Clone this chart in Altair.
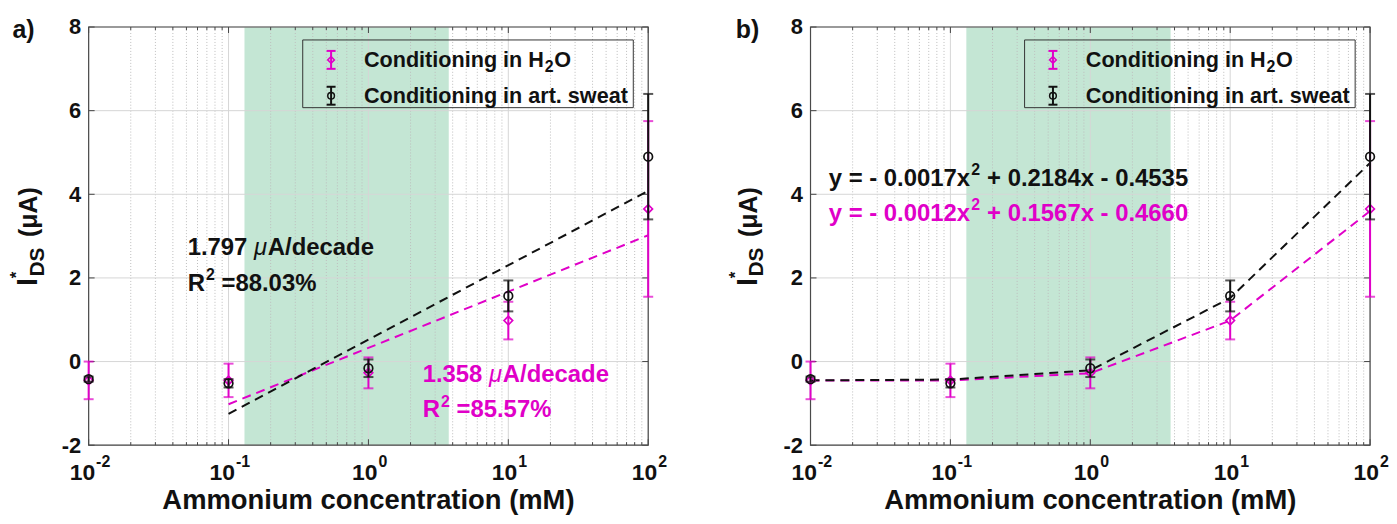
import altair as alt
import pandas as pd

# ---------------- data ----------------
conc = [0.01, 0.1, 1, 10, 100]
h2o_mean = [-0.45, -0.45, -0.27, 0.98, 3.65]
h2o_err = [0.45, 0.40, 0.37, 0.45, 2.10]
sweat_mean = [-0.42, -0.52, -0.16, 1.57, 4.90]
sweat_err = [0.06, 0.10, 0.21, 0.37, 1.50]

# panel a: linear fits in log(x)
fitA_x = [0.1, 100]
fitA_h2o = [-1.02, 3.02]
fitA_sweat = [-1.25, 4.08]

# panel b: polynomial fit evaluated at each concentration
fitB_h2o = [-0.45, -0.45, -0.28, 0.98, 3.60]
fitB_sweat = [-0.45, -0.43, -0.21, 1.52, 4.75]

shade_range = [0.13, 3.75]
y_tick_values = [-2, 0, 2, 4, 6, 8]
x_decades = [0.01, 0.1, 1, 10, 100]
x_exponents = ["-2", "-1", "0", "1", "2"]
minor_mult = [2, 3, 4, 5, 6, 7, 8, 9]

# panel a slope annotations
annotA_num = ["1.797", "1.358"]
annotA_r2 = ["=88.03%", "=85.57%"]
annotA_x = [0.051, 2.44]
annotA_y1 = [2.71, -0.33]
annotA_y2 = [1.86, -1.17]
annotA_s = ["sweat", "h2o"]

# panel b fit equations (split around the superscript 2)
annotB_head = ["y = - 0.0017x", "y = - 0.0012x"]
annotB_tail = ["+ 0.2184x - 0.4535", "+ 0.1567x - 0.4660"]
annotB_x = [0.0135, 0.0135]
annotB_y = [4.36, 3.52]
annotB_s = ["sweat", "h2o"]

legend_head = ["Conditioning in H", "Conditioning in art. sweat"]

# ---------------- style ----------------
W, H = 562, 420
FONT = "Liberation Sans"
MAG = "#e000c8"
BLK = "#111111"
GREEN = "#c4e6d4"
col_scale = alt.Scale(domain=["h2o", "sweat"], range=[MAG, BLK])
XS = alt.Scale(type="log", domain=[0.01, 100], nice=False)
YS = alt.Scale(domain=[-2, 8], nice=False, zero=False)
YAX = alt.Axis(values=y_tick_values, title=None, labelFont=FONT, labelFontSize=22,
               labelFontWeight="bold", labelColor="#111111", ticks=False, domain=False,
               grid=False, labelPadding=8, labelFlush=False,
               labelExpr="'' + datum.value")


def X(f):
    return alt.X(f, type="quantitative", scale=XS, axis=None)


def Y(f):
    return alt.Y(f, type="quantitative", scale=YS, axis=YAX)


ONE = pd.DataFrame({"k": [0]})
ANN = 24


def panel(which):
    L = []
    # shaded region
    L.append(alt.Chart(pd.DataFrame({"x0": [shade_range[0]], "x1": [shade_range[1]],
                                     "y0": [-2], "y1": [8]}))
             .mark_rect(color=GREEN)
             .encode(x=X("x0"), x2="x1", y=Y("y0"), y2="y1"))
    # grid
    minor_vals = [m * d for d in x_decades[:-1] for m in minor_mult]
    L.append(alt.Chart(pd.DataFrame({"v": minor_vals})).mark_rule(
        color="#bdbdbd", strokeWidth=1, strokeDash=[1, 2]).encode(
        x=X("v"), y=alt.value(0), y2=alt.value(H)))
    L.append(alt.Chart(pd.DataFrame({"v": x_decades})).mark_rule(
        color="#d6d6d6", strokeWidth=1).encode(x=X("v"), y=alt.value(0), y2=alt.value(H)))
    L.append(alt.Chart(pd.DataFrame({"v": y_tick_values})).mark_rule(
        color="#d6d6d6", strokeWidth=1).encode(y=Y("v"), x=alt.value(0), x2=alt.value(W)))
    # inward ticks
    tk = "#444444"
    ydf = pd.DataFrame({"v": y_tick_values})
    L.append(alt.Chart(ydf).mark_rule(color=tk).encode(y=Y("v"), x=alt.value(0), x2=alt.value(6)))
    L.append(alt.Chart(ydf).mark_rule(color=tk).encode(y=Y("v"), x=alt.value(W - 6), x2=alt.value(W)))
    xdf = pd.DataFrame({"v": x_decades})
    mdf = pd.DataFrame({"v": minor_vals})
    L.append(alt.Chart(xdf).mark_rule(color=tk).encode(x=X("v"), y=alt.value(H - 6), y2=alt.value(H)))
    L.append(alt.Chart(xdf).mark_rule(color=tk).encode(x=X("v"), y=alt.value(0), y2=alt.value(6)))
    L.append(alt.Chart(mdf).mark_rule(color=tk).encode(x=X("v"), y=alt.value(H - 3), y2=alt.value(H)))
    L.append(alt.Chart(mdf).mark_rule(color=tk).encode(x=X("v"), y=alt.value(0), y2=alt.value(3)))
    # frame
    L.append(alt.Chart(ONE).mark_rect(fillOpacity=0, stroke="#4a4a4a", strokeWidth=1.2).encode(
        x=alt.value(0), x2=alt.value(W), y=alt.value(0), y2=alt.value(H)))

    # fit lines
    if which == "a":
        fdf = pd.DataFrame({"x": fitA_x + fitA_x, "y": fitA_h2o + fitA_sweat,
                            "s": ["h2o"] * 2 + ["sweat"] * 2})
    else:
        fdf = pd.DataFrame({"x": conc + conc, "y": fitB_h2o + fitB_sweat,
                            "s": ["h2o"] * 5 + ["sweat"] * 5})
    for s in ["h2o", "sweat"]:
        L.append(alt.Chart(fdf[fdf.s == s]).mark_line(strokeDash=[9, 6], strokeWidth=2,
                                                      color=MAG if s == "h2o" else BLK)
                 .encode(x=X("x"), y=Y("y")))

    # error bars + markers
    for s, mean, err, shape in [("h2o", h2o_mean, h2o_err, "diamond"),
                                ("sweat", sweat_mean, sweat_err, "circle")]:
        c = MAG if s == "h2o" else BLK
        edf = pd.DataFrame({"x": conc, "m": mean, "e": err})
        edf["lo"] = edf.m - edf.e
        edf["hi"] = edf.m + edf.e
        L.append(alt.Chart(edf).mark_rule(color=c, strokeWidth=2).encode(
            x=X("x"), y=Y("lo"), y2="hi"))
        L.append(alt.Chart(edf).mark_tick(color=c, orient="horizontal", size=10, thickness=2).encode(
            x=X("x"), y=Y("lo")))
        L.append(alt.Chart(edf).mark_tick(color=c, orient="horizontal", size=10, thickness=2).encode(
            x=X("x"), y=Y("hi")))
        L.append(alt.Chart(edf).mark_point(shape=shape, filled=False, size=75, strokeWidth=1.7,
                                           color=c, opacity=1).encode(x=X("x"), y=Y("m")))

    # annotations
    txt = dict(font=FONT, fontWeight="bold", fontSize=ANN, align="left", baseline="middle")
    sup = dict(font=FONT, fontWeight="bold", fontSize=16, align="left", baseline="middle")
    colr = alt.Color("s:N", scale=col_scale, legend=None)
    if which == "a":
        adf = pd.DataFrame({"x": annotA_x, "y1": annotA_y1, "y2": annotA_y2,
                            "n": annotA_num, "r": annotA_r2, "s": annotA_s})
        L.append(alt.Chart(adf).mark_text(**txt).encode(
            x=X("x"), y=Y("y1"), text="n:N", color=colr))
        L.append(alt.Chart(adf).mark_text(**{**txt, "fontStyle": "italic", "fontWeight": "normal"},
                                          dx=66.7).encode(
            x=X("x"), y=Y("y1"), text=alt.value("μ"), color=colr))
        L.append(alt.Chart(adf).mark_text(**txt, dx=80.5).encode(
            x=X("x"), y=Y("y1"), text=alt.value("A/decade"), color=colr))
        L.append(alt.Chart(adf).mark_text(**txt).encode(
            x=X("x"), y=Y("y2"), text=alt.value("R"), color=colr))
        L.append(alt.Chart(adf).mark_text(**sup, dx=18.5, dy=-9).encode(
            x=X("x"), y=Y("y2"), text=alt.value("2"), color=colr))
        L.append(alt.Chart(adf).mark_text(**txt, dx=34).encode(
            x=X("x"), y=Y("y2"), text="r:N", color=colr))
    else:
        adf = pd.DataFrame({"x": annotB_x, "y": annotB_y, "h": annotB_head,
                            "t": annotB_tail, "s": annotB_s})
        L.append(alt.Chart(adf).mark_text(**txt).encode(
            x=X("x"), y=Y("y"), text="h:N", color=colr))
        L.append(alt.Chart(adf).mark_text(**sup, dx=143, dy=-9).encode(
            x=X("x"), y=Y("y"), text=alt.value("2"), color=colr))
        L.append(alt.Chart(adf).mark_text(**txt, dx=159).encode(
            x=X("x"), y=Y("y"), text="t:N", color=colr))

    # legend
    lx0, lx1, ly0, ly1 = 215, 547, 13, 81
    L.append(alt.Chart(ONE).mark_rect(fillOpacity=0, stroke="#333333", strokeWidth=1).encode(
        x=alt.value(lx0), x2=alt.value(lx1), y=alt.value(ly0), y2=alt.value(ly1)))
    ix = 243.5
    ltxt = dict(font=FONT, fontWeight="bold", align="left", baseline="middle", color=BLK)
    for row, (c, shape) in enumerate([(MAG, "diamond"), (BLK, "circle")]):
        cy = 33 + row * 36
        L.append(alt.Chart(ONE).mark_rule(color=c, strokeWidth=2).encode(
            x=alt.value(ix), y=alt.value(cy - 9), y2=alt.value(cy + 9)))
        for yy in (cy - 9, cy + 9):
            L.append(alt.Chart(ONE).mark_rule(color=c, strokeWidth=2).encode(
                x=alt.value(ix - 4.5), x2=alt.value(ix + 4.5), y=alt.value(yy)))
        L.append(alt.Chart(ONE).mark_point(shape=shape, filled=False, size=45, strokeWidth=1.5,
                                           color=c, opacity=1).encode(
            x=alt.value(ix), y=alt.value(cy)))
        L.append(alt.Chart(ONE).mark_text(fontSize=21.7, **ltxt).encode(
            x=alt.value(276.5), y=alt.value(cy), text=alt.value(legend_head[row])))
        if row == 0:
            L.append(alt.Chart(ONE).mark_text(fontSize=16, **ltxt).encode(
                x=alt.value(276.5 + 181.5), y=alt.value(cy + 7), text=alt.value("2")))
            L.append(alt.Chart(ONE).mark_text(fontSize=21.7, **ltxt).encode(
                x=alt.value(276.5 + 191), y=alt.value(cy), text=alt.value("O")))

    # x tick labels
    neg = pd.DataFrame({"v": x_decades[:2], "e": x_exponents[:2]})
    pos = pd.DataFrame({"v": x_decades[2:], "e": x_exponents[2:]})
    for d, shift in [(neg, 6.5), (pos, 9.0)]:
        L.append(alt.Chart(d).mark_text(font=FONT, fontWeight="bold", fontSize=23, align="right",
                                        baseline="middle", dx=shift, color=BLK).encode(
            x=X("v"), y=alt.value(H + 28), text=alt.value("10")))
        L.append(alt.Chart(d).mark_text(font=FONT, fontWeight="bold", fontSize=16, align="left",
                                        baseline="middle", dx=shift + 1, color=BLK).encode(
            x=X("v"), y=alt.value(H + 17), text="e:N"))
    # x title
    L.append(alt.Chart(ONE).mark_text(font=FONT, fontWeight="bold", fontSize=27.5, align="center",
                                      baseline="middle", color=BLK).encode(
        x=alt.value(W / 2), y=alt.value(H + 56), text=alt.value("Ammonium concentration (mM)")))
    # y title pieces (rotated)
    sh = 0 if which == "a" else -2.5
    for t, fs, xx, yy, bl in [("I", 29, -51.5, 256, "alphabetic"), ("*", 17, -80, 249, "top"),
                              ("DS", 21, -45, 236, "alphabetic"), ("(μA)", 25, -51.5, 186, "alphabetic")]:
        L.append(alt.Chart(ONE).mark_text(font=FONT, fontWeight="bold", fontSize=fs, angle=270,
                                          align="center", baseline=bl, color=BLK).encode(
            x=alt.value(xx + sh), y=alt.value(yy), text=alt.value(t)))
    # panel label
    L.append(alt.Chart(ONE).mark_text(font=FONT, fontWeight="bold", fontSize=25, align="left",
                                      baseline="middle", color=BLK).encode(
        x=alt.value(-76.5 if which == "a" else -75), y=alt.value(3.5),
        text=alt.value("a)" if which == "a" else "b)")))

    return alt.layer(*L).properties(width=W, height=H)


chart = alt.hconcat(panel("a"), panel("b"), spacing=163, bounds="flush").properties(
    padding={"left": 0, "top": 7, "right": 0, "bottom": 0}
).configure_view(stroke=None)

chart.save("out.html", embed_options={"renderer": "svg", "actions": False})
